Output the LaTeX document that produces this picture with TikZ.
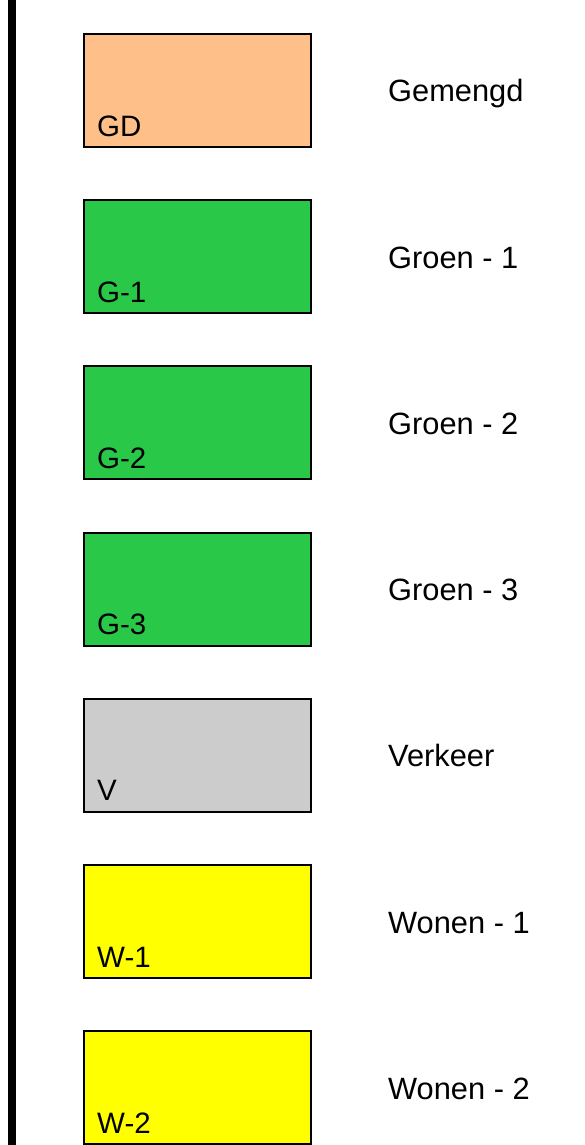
\documentclass[tikz,border=0pt]{standalone}
\usepackage{fontspec}
\setmainfont{Liberation Sans}
\definecolor{cGD}{RGB}{255,191,136}
\definecolor{cG}{RGB}{42,200,72}
\definecolor{cV}{RGB}{204,204,204}
\definecolor{cW}{RGB}{255,255,0}
\begin{document}
\begin{tikzpicture}[x=1pt,y=-1pt,
  legbox/.style={draw=black,line width=2pt,minimum width=227pt,minimum height=113pt,anchor=north west,inner sep=0pt,outer sep=0pt},
  code/.style={anchor=base west,inner sep=0pt,font=\fontsize{29.5}{34}\selectfont},
  desc/.style={anchor=base west,inner sep=0pt,font=\fontsize{30.8}{36}\selectfont}]
\useasboundingbox (0,0) rectangle (585,1145);
\fill[black] (8,-5) rectangle (16,1150);
\foreach \i/\col/\c/\d in {0/cGD/GD/Gemengd,1/cG/G-1/Groen - 1,2/cG/G-2/Groen - 2,3/cG/G-3/Groen - 3,4/cV/V/Verkeer,5/cW/W-1/Wonen - 1,6/cW/W-2/Wonen - 2}{
  \pgfmathsetmacro{\t}{34+166.2*\i}
  \node[legbox,fill=\col] (b\i) at (84,\t) {};
  \node[code] (c\i) at (97,\t+102) {\c};
  \node[desc] (d\i) at (388,\t+68) {\d};
}
\end{tikzpicture}
\end{document}
